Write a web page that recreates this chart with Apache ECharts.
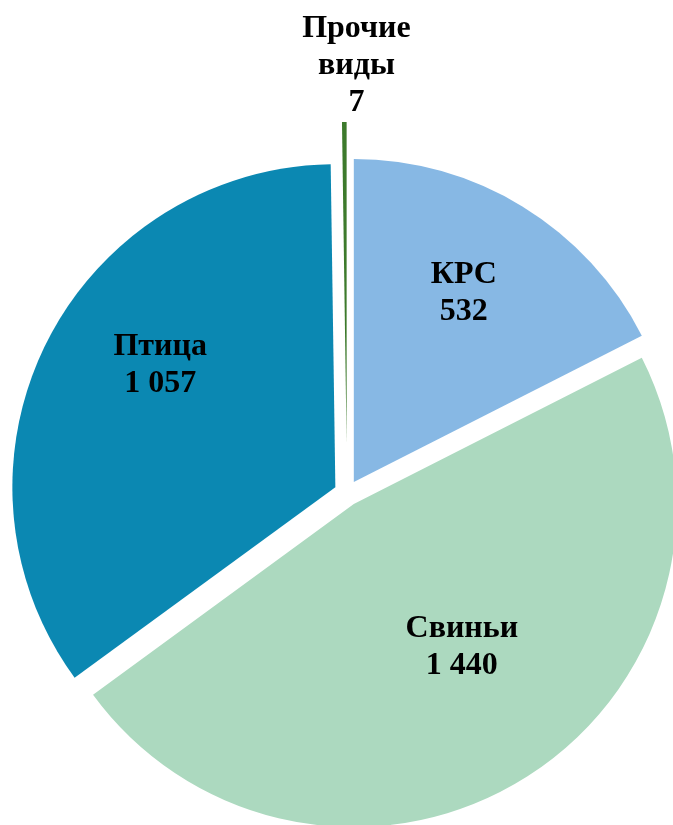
<!DOCTYPE html>
<html>
<head>
<meta charset="utf-8">
<script src="https://cdn.jsdelivr.net/npm/echarts@6/dist/echarts.min.js"></script>
<style>
    html, body { margin: 0; padding: 0; background: #fff; }
    #j-pie { width: 673px; height: 825px; }
</style>
</head>
<body>
<div id="j-pie"></div>
<script>
// данные диаграммы
var categories = ['КРС', 'Свиньи', 'Птица', 'Прочие виды'];
var values = [532, 1440, 1057, 7];
var labelText = ['КРС', 'Свиньи', 'Птица', 'Прочие\nвиды'];
var valueText = ['532', '1 440', '1 057', '7'];

var colors = ['#87b8e4', '#acd9bf', '#0b88b2', '#3d7a2c'];
// сдвиг подписей относительно положения 'inside'
var labelShift = [[24, -48], [22, 3], [-28, -49], [11, -215]];

var labelStyle = {
    fontFamily: '"Liberation Serif", "Times New Roman", serif',
    fontWeight: 'bold',
    fontSize: 32,
    lineHeight: 37,
    color: '#000'
};

// основной ряд: три больших сектора
var mainData = categories.map(function (name, i) {
    var small = i === 3;
    return {
        name: name,
        value: values[i],
        selected: true,
        itemStyle: { color: small ? 'transparent' : colors[i] },
        label: {
            show: !small,
            formatter: labelText[i] + '\n' + valueText[i]
        }
    };
});

// второй ряд: только "Прочие виды", вынесен дальше
var otherData = categories.map(function (name, i) {
    var small = i === 3;
    return {
        name: name,
        value: values[i],
        selected: small,
        itemStyle: { color: small ? colors[i] : 'transparent' },
        label: {
            show: small,
            formatter: labelText[i] + '\n' + valueText[i]
        }
    };
});

var shiftLabel = function (params) {
    var s = labelShift[params.dataIndex];
    return { dx: s[0], dy: s[1] };
};

var baseSeries = {
    type: 'pie',
    center: [347, 493],
    radius: 323,
    startAngle: 90,
    clockwise: true,
    selectedMode: 'multiple',
    avoidLabelOverlap: false,
    silent: true,
    itemStyle: { borderWidth: 0 },
    label: Object.assign({ position: 'inside' }, labelStyle),
    labelLine: { show: false },
    labelLayout: shiftLabel,
    emphasis: { disabled: true }
};

var option = {
    animation: false,
    backgroundColor: '#fff',
    series: [
        Object.assign({}, baseSeries, { selectedOffset: 13, data: mainData }),
        Object.assign({}, baseSeries, { selectedOffset: 48, data: otherData })
    ]
};

var myChart = echarts.init(document.getElementById('j-pie'));
myChart.setOption(option);
</script>
</body>
</html>
